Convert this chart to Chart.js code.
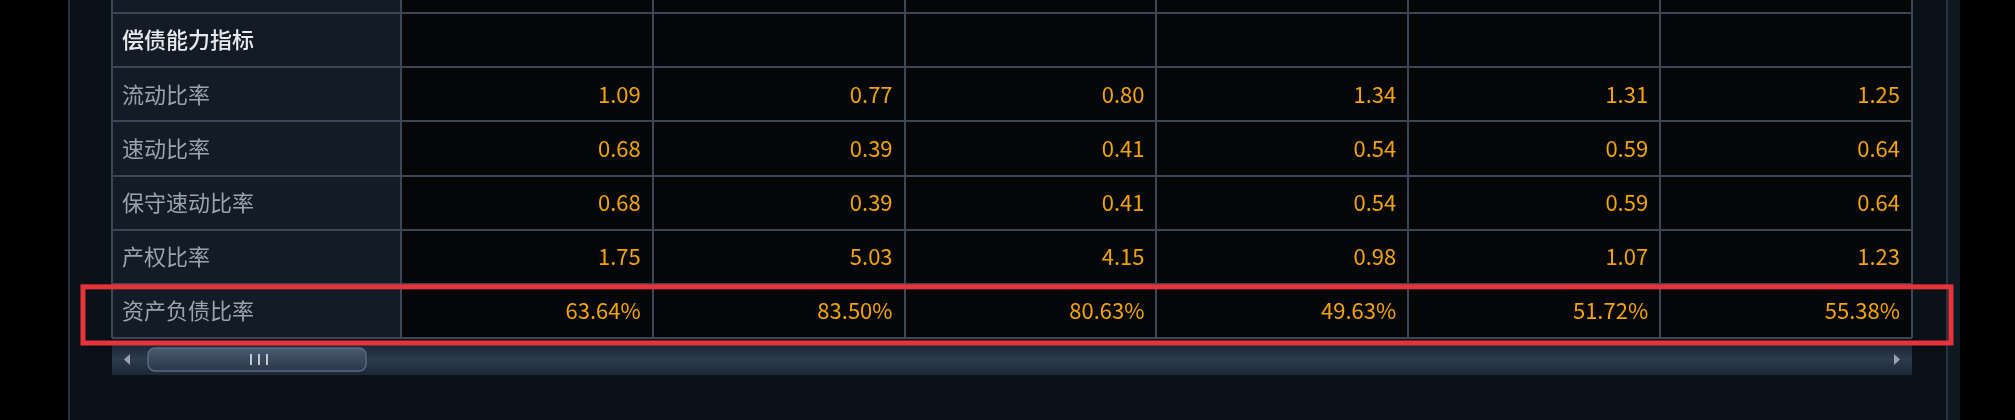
<!DOCTYPE html>
<html><head><meta charset="utf-8">
<script src="https://cdn.jsdelivr.net/npm/chart.js@4.4.1/dist/chart.umd.min.js"></script>
<style>html,body{margin:0;padding:0;background:#000;}canvas{display:block;}</style>
</head><body>
<div style="width:2015px;height:420px;"><canvas id="c" width="2015" height="420"></canvas></div>
<script>
const rowLabels = ['偿债能力指标','流动比率','速动比率','保守速动比率','产权比率','资产负债比率'];
const periods = ['P1','P2','P3','P4','P5','P6'];
const currentRatio = [1.09,0.77,0.80,1.34,1.31,1.25];
const quickRatio = [0.68,0.39,0.41,0.54,0.59,0.64];
const conservativeQuick = [0.68,0.39,0.41,0.54,0.59,0.64];
const equityRatio = [1.75,5.03,4.15,0.98,1.07,1.23];
const debtAssetRatio = [63.64,83.50,80.63,49.63,51.72,55.38];

const series = [null,
  currentRatio.map(v=>v.toFixed(2)),
  quickRatio.map(v=>v.toFixed(2)),
  conservativeQuick.map(v=>v.toFixed(2)),
  equityRatio.map(v=>v.toFixed(2)),
  debtAssetRatio.map(v=>v.toFixed(2)+'%')];
const pts=[];
series.forEach((arr,r)=>{ if(!arr) return; arr.forEach((t,j)=>pts.push({x:j+0.5,y:rowLabels[r],t})); });

const FONT='"Noto Sans CJK SC","Noto Sans",sans-serif';
const tablePlugin={id:'tbl',
 beforeDraw(ch){
  const c=ch.ctx,a=ch.chartArea,xs=ch.scales.x,ys=ch.scales.y;
  c.save();
  c.fillStyle='#000';c.fillRect(0,0,2015,420);
  c.fillStyle='#0b1119';c.fillRect(68,0,1892,420);
  c.fillStyle='#2a3340';c.fillRect(68,0,2,420);c.fillRect(1946,0,2,420);
  c.fillStyle='#101821';c.fillRect(1948,0,12,420);
  const xL=xs.getPixelForValue(-1.147),x0=xs.getPixelForValue(0),xR=xs.getPixelForValue(6);
  const rowH=ys.getPixelForValue(rowLabels[1])-ys.getPixelForValue(rowLabels[0]);
  const top=a.top-rowH;
  c.fillStyle='#131b26';c.fillRect(xL,top,x0-xL,a.bottom-top);
  c.fillStyle='#040607';c.fillRect(x0,top,xR-x0,a.bottom-top);
  c.fillStyle='#3b4757';
  for(let i=0;i<=rowLabels.length;i++){const y=Math.round(a.top+i*rowH);c.fillRect(xL,y-1,xR-xL,2);}
  [-1.147,0,1,2,3,4,5,6].forEach(v=>{const x=Math.round(xs.getPixelForValue(v));c.fillRect(x-1,top,2,a.bottom-top);});
  c.textBaseline='middle';
  rowLabels.forEach((l,i)=>{const y=ys.getPixelForValue(l);
    c.fillStyle=i==0?'#e6eaee':'#9aa3ae';c.font=(i==0?'500 ':'')+'22px '+FONT;c.textAlign='left';c.fillText(l,xL+10,y);});
  const sy=a.bottom+6;
  const g=c.createLinearGradient(0,sy,0,sy+31);g.addColorStop(0,'#1a2533');g.addColorStop(0.5,'#2d3b4e');g.addColorStop(1,'#1c2735');
  c.fillStyle=g;c.fillRect(xL,sy,xR-xL,31);
  const g2=c.createLinearGradient(0,sy+4,0,sy+27);g2.addColorStop(0,'#4a5b72');g2.addColorStop(1,'#2a3646');
  c.fillStyle=g2;c.strokeStyle='#5a6a80';c.lineWidth=1.5;
  c.beginPath();c.roundRect(148,sy+4,218,23,7);c.fill();c.stroke();
  c.fillStyle='#c0c8d2';[250,258,266].forEach(x=>c.fillRect(x,sy+10,2,11));
  c.fillStyle='#9aa4b0';
  c.beginPath();c.moveTo(124,sy+15.5);c.lineTo(130,sy+10);c.lineTo(130,sy+21);c.fill();
  c.beginPath();c.moveTo(1900,sy+15.5);c.lineTo(1894,sy+10);c.lineTo(1894,sy+21);c.fill();
  c.restore();
 },
 afterDatasetsDraw(ch){
  const c=ch.ctx,xs=ch.scales.x,ys=ch.scales.y;
  c.save();c.fillStyle='#f3a400';c.font='22px '+FONT;c.textAlign='right';c.textBaseline='middle';
  ch.getDatasetMeta(0).data.forEach((el,i)=>{const p=pts[i];
    c.fillText(p.t,xs.getPixelForValue(p.x+0.5)-12,el.y);});
  const r=ys.getPixelForValue(rowLabels[5]);const rh=ys.getPixelForValue(rowLabels[1])-ys.getPixelForValue(rowLabels[0]);
  c.strokeStyle='#e8333b';c.lineWidth=5;c.strokeRect(83,r-rh/2+3,1868,rh+2);
  c.restore();
 }};

new Chart(document.getElementById('c'),{
 type:'scatter',
 data:{datasets:[{data:pts,pointRadius:0,pointHoverRadius:0}]},
 options:{responsive:false,animation:false,events:[],
  layout:{padding:{left:112,right:103,top:13,bottom:82}},
  plugins:{legend:{display:false},tooltip:{enabled:false}},
  scales:{
   x:{type:'linear',min:-1.147,max:6,display:false},
   y:{type:'category',labels:rowLabels,offset:true,display:false}
  }},
 plugins:[tablePlugin]});
</script>
</body></html>
